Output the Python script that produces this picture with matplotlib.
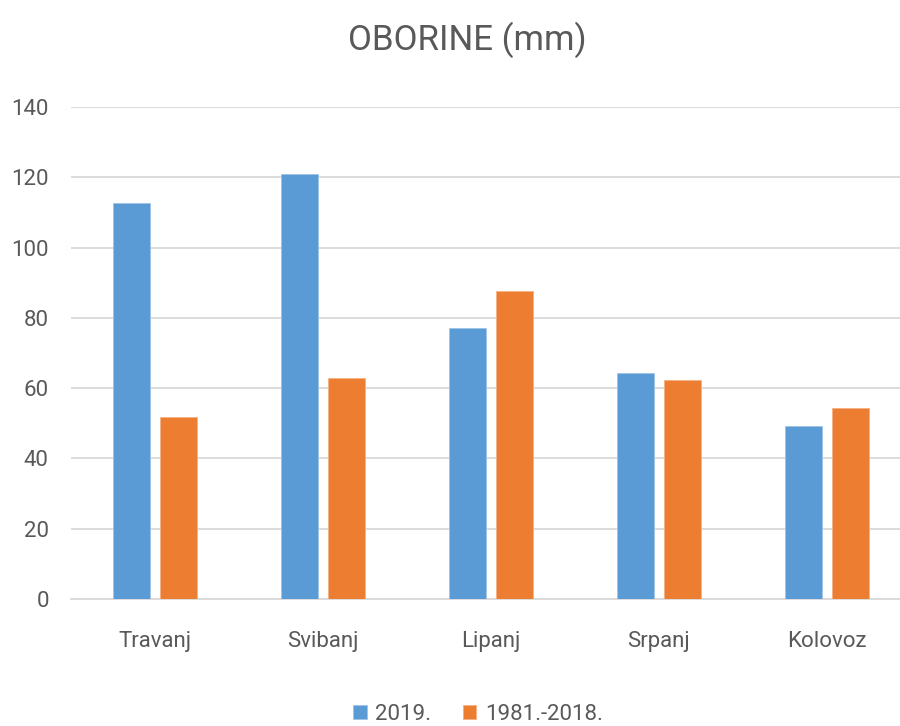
import numpy as np
import matplotlib
matplotlib.use("Agg")
import matplotlib.pyplot as plt

plt.rcParams['font.family'] = ['Roboto', 'DejaVu Sans']

mjeseci = ['Travanj', 'Svibanj', 'Lipanj', 'Srpanj', 'Kolovoz']
oborine_2019 = [112.8, 120.9, 77.0, 64.3, 49.2]
oborine_prosjek = [51.8, 62.9, 87.6, 62.3, 54.3]
serije = ['2019.', '1981.-2018.']

plava = '#5B9BD5'
narancasta = '#ED7D31'
siva = '#595959'

fig = plt.figure(figsize=(9, 7.26), dpi=100)
ax = fig.add_axes([0.0789, 0.1749, 0.9333, 0.6777])

x = np.arange(len(mjeseci))
w = 0.22
ax.bar(x - 0.142, oborine_2019, w, color=plava, edgecolor='#9DC3E6', linewidth=0.6,
       label=serije[0], zorder=3)
ax.bar(x + 0.142, oborine_prosjek, w, color=narancasta, edgecolor='#F4B183', linewidth=0.6,
       label=serije[1], zorder=3)

ax.set_xlim(-0.5, 4.5)
ax.set_ylim(0, 140)
ax.set_yticks(np.arange(0, 141, 20))
ax.set_xticks(x)
ax.set_xticklabels(mjeseci)
ax.grid(axis='y', color='#D9D9D9', linewidth=1.3, zorder=0)
for s in ['top', 'right', 'left']:
    ax.spines[s].set_visible(False)
ax.spines['bottom'].set_color('#D9D9D9')
ax.spines['bottom'].set_linewidth(1.3)
ax.tick_params(axis='both', length=0, labelsize=16, colors=siva)
ax.tick_params(axis='y', pad=16)
ax.tick_params(axis='x', pad=23)

fig.text(0.519, 0.945, 'OBORINE (mm)', ha='center', va='center', fontsize=25, color=siva)

leg = fig.legend(loc='center', bbox_to_anchor=(0.531, 0.016), ncol=2, frameon=False,
                 fontsize=16, handlelength=0.6, handleheight=0.6, handletextpad=0.4,
                 columnspacing=1.4, labelcolor=siva)

plt.savefig('out.png', dpi=100)
